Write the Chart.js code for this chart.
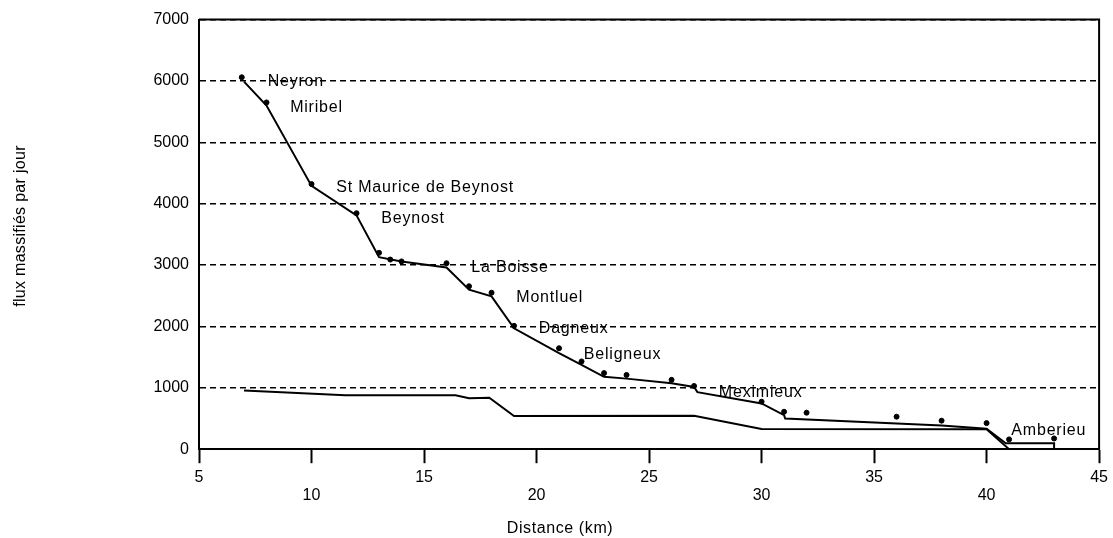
<!DOCTYPE html>
<html>
<head>
<meta charset="utf-8">
<script src="https://cdn.jsdelivr.net/npm/chart.js@4/dist/chart.umd.min.js"></script>
<style>
  html, body { margin: 0; padding: 0; background: #fff; }
  #wrap { width: 1113px; height: 538px; }
</style>
</head>
<body>
<div id="wrap"><canvas id="c" width="1113" height="538"></canvas></div>
<script>
// ---- data ----
const upperX = [7, 8, 10, 12, 13, 14, 16, 17, 18, 19, 21, 22, 23, 24, 26, 27, 27.15, 30, 31, 31.05, 38, 40, 40.85, 43, 43];
const upperY = [5990, 5600, 4290, 3810, 3130, 3060, 2960, 2600, 2490, 1970, 1565, 1375, 1180, 1150, 1075, 1015, 930, 745, 555, 500, 385, 335, 95, 95, 0];
const lowerX = [7, 11.5, 16.4, 17, 17.9, 19, 27, 30, 40, 41, 43];
const lowerY = [955, 880, 880, 830, 840, 540, 545, 330, 325, 0, 0];
const obsX = [6.9, 8, 10, 12, 13, 13.5, 14, 16, 17, 18, 19, 21, 22, 23, 24, 26, 27, 30, 31, 32, 36, 38, 40, 41, 43];
const obsY = [6060, 5650, 4320, 3845, 3200, 3090, 3060, 3030, 2655, 2550, 2010, 1645, 1430, 1240, 1210, 1130, 1030, 775, 610, 595, 530, 465, 425, 160, 175];
const placeNames = ['Neyron', 'Miribel', 'St Maurice de Beynost', 'Beynost', 'La Boisse', 'Montluel', 'Dagneux', 'Beligneux', 'Meximieux', 'Amberieu'];
const placeX = [8.05, 9.05, 11.1, 13.1, 17.1, 19.1, 20.1, 22.1, 28.1, 41.1];
const placeY = [5985, 5560, 4265, 3755, 2955, 2465, 1960, 1540, 920, 310];
const xTitle = 'Distance (km)';
const yTitle = 'flux massifiés par jour';

const FONT = '"Liberation Sans", Arial, Helvetica, sans-serif';
const toPts = (xs, ys) => xs.map((x, i) => ({ x: x, y: ys[i] }));

const decor = {
  id: 'decor',
  afterDraw(chart) {
    const { ctx, chartArea: a, scales } = chart;
    ctx.save();
    // frame top & right
    ctx.strokeStyle = '#000';
    ctx.lineWidth = 2;
    ctx.beginPath();
    ctx.moveTo(a.left, a.top);
    ctx.lineTo(a.right, a.top);
    ctx.lineTo(a.right, a.bottom);
    ctx.stroke();
    // place names
    ctx.fillStyle = '#000';
    ctx.font = '16px ' + FONT;
    try { ctx.letterSpacing = '0.8px'; } catch (e) {}
    ctx.textAlign = 'left';
    ctx.textBaseline = 'middle';
    placeNames.forEach((n, i) => {
      ctx.fillText(n, scales.x.getPixelForValue(placeX[i]), scales.y.getPixelForValue(placeY[i]));
    });
    // axis titles
    ctx.textAlign = 'center';
    try { ctx.letterSpacing = '0.6px'; } catch (e) {}
    ctx.fillText(xTitle, 560, 529);
    ctx.translate(21, 226);
    ctx.rotate(-Math.PI / 2);
    try { ctx.letterSpacing = '0.3px'; } catch (e) {}
    ctx.fillText(yTitle, 0, 0);
    ctx.restore();
  }
};

new Chart(document.getElementById('c'), {
  type: 'scatter',
  data: {
    datasets: [
      { data: toPts(upperX, upperY), showLine: true, borderColor: '#000', borderWidth: 2, pointRadius: 0, tension: 0, fill: false },
      { data: toPts(lowerX, lowerY), showLine: true, borderColor: '#000', borderWidth: 2, pointRadius: 0, tension: 0, fill: false },
      { data: toPts(obsX, obsY), showLine: false, backgroundColor: '#000', borderColor: '#000', pointRadius: 2.5, pointStyle: 'circle' }
    ]
  },
  options: {
    responsive: false,
    animation: false,
    devicePixelRatio: 1,
    layout: { padding: { left: 153, right: 6, top: 16, bottom: 28 } },
    plugins: { legend: { display: false }, tooltip: { enabled: false } },
    scales: {
      x: {
        type: 'linear', min: 5, max: 45,
        ticks: {
          stepSize: 5, color: '#000', padding: 5, maxRotation: 0, autoSkip: false,
          font: { family: FONT, size: 16, lineHeight: 1.15 },
          callback: v => (v % 10 === 0 ? ['', String(v)] : [String(v)])
        },
        grid: { drawOnChartArea: false, drawTicks: true, tickLength: 14, tickWidth: 2, tickColor: '#000' },
        border: { display: true, color: '#000', width: 2 }
      },
      y: {
        type: 'linear', min: 0, max: 7000,
        afterFit: s => { s.width = 46; },
        ticks: { stepSize: 1000, color: '#000', padding: 10, font: { family: FONT, size: 16 }, callback: v => String(v) },
        grid: { drawTicks: false, color: '#000', lineWidth: 1.5 },
        border: { display: true, color: '#000', width: 2, dash: [6, 4] }
      }
    }
  },
  plugins: [decor]
});
</script>
</body>
</html>
